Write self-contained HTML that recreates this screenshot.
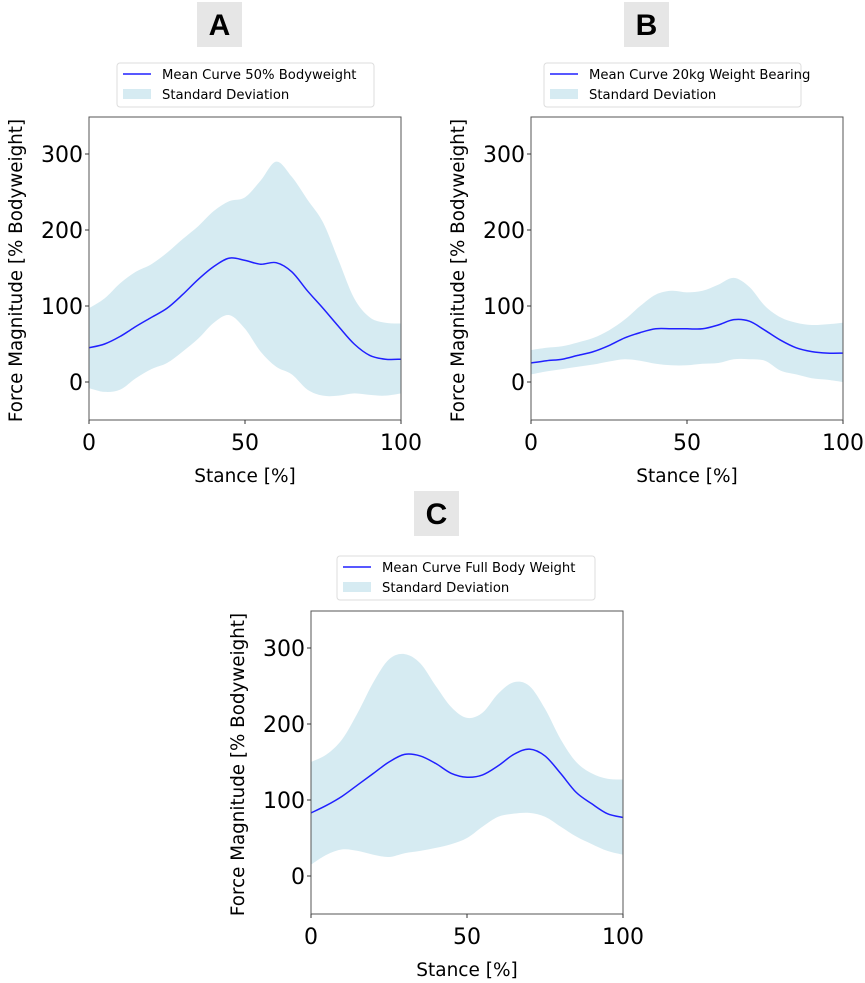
<!DOCTYPE html>
<html><head><meta charset="utf-8"><style>
body{margin:0;background:#fff;width:865px;height:983px;overflow:hidden;font-family:"DejaVu Sans","Liberation Sans",sans-serif}
svg{position:absolute;left:0;top:0}
</style></head><body>
<svg id="chart" width="865" height="983"></svg>
<script>
const stance=[0,5,10,15,20,25,30,35,40,45,50,55,60,65,70,75,80,85,90,95,100];
const yTicks=[0,100,200,300];
const xTicks=[0,50,100];
const meanA=[45,50,60,73,85,97,115,135,152,163,160,155,157,145,120,97,73,50,35,30,30];
const upperA=[97,110,130,145,155,170,188,205,225,238,243,265,290,270,240,210,160,110,85,78,77];
const lowerA=[-8,-13,-10,5,17,25,40,57,78,88,70,40,20,10,-10,-18,-18,-15,-17,-18,-15];
const meanB=[25,28,30,35,40,48,58,65,70,70,70,70,75,82,80,68,55,45,40,38,38];
const upperB=[42,45,47,52,58,68,82,100,115,120,118,120,128,137,125,100,85,78,75,76,78];
const lowerB=[10,14,17,20,23,27,30,28,24,22,22,24,25,30,30,28,15,10,5,3,0];
const meanC=[83,93,105,120,135,150,160,158,148,135,130,133,145,160,167,158,135,110,95,82,77];
const upperC=[150,160,180,215,255,285,292,280,250,222,208,215,240,255,250,220,180,150,135,128,127];
const lowerC=[15,28,35,33,28,25,30,33,37,42,50,65,78,82,83,78,65,52,42,33,28];
const labels=["Mean Curve 50% Bodyweight","Mean Curve 20kg Weight Bearing","Mean Curve Full Body Weight"];

const NS="http://www.w3.org/2000/svg";
const svg=document.getElementById('chart');
function mk(tag,attrs,parent,txt){const e=document.createElementNS(NS,tag);for(const k in attrs)e.setAttribute(k,attrs[k]);if(txt!==undefined)e.textContent=txt;(parent||svg).appendChild(e);return e;}
function smooth(pts){let d="M"+pts[0][0]+","+pts[0][1];for(let i=0;i<pts.length-1;i++){const p0=pts[Math.max(0,i-1)],p1=pts[i],p2=pts[i+1],p3=pts[Math.min(pts.length-1,i+2)];
d+=" C"+(p1[0]+(p2[0]-p0[0])/6)+","+(p1[1]+(p2[1]-p0[1])/6)+" "+(p2[0]-(p3[0]-p1[0])/6)+","+(p2[1]-(p3[1]-p1[1])/6)+" "+p2[0]+","+p2[1];}return d;}
function panel(id,L,T,mean,up,lo,letter,lx,ly,legX,legY,legW,label){
  const R=L+312,B=T+303;
  const x=v=>L+v/100*(R-L);
  const y=v=>(T+265)-v*0.76;
  const g=mk('g',{});
  
  
  const lb=mk('rect',{x:lx,y:ly,width:45,height:45,fill:'#e6e6e6'},g);
  
  
  const lt=mk('text',{x:lx+22.5,y:ly+33,'text-anchor':'middle','font-size':30,'font-weight':'bold','font-family':'Liberation Sans, sans-serif'},g,letter);
  
  
  const upPts=stance.map((s,i)=>[x(s),y(up[i])]);
  const loPts=stance.map((s,i)=>[x(s),y(lo[i])]).reverse();
  const band=mk('path',{d:smooth(upPts)+" L"+smooth(loPts).slice(1)+" Z",fill:'#add8e6','fill-opacity':0.5},g);
  
  
  const ln=mk('path',{d:smooth(stance.map((s,i)=>[x(s),y(mean[i])])),fill:'none',stroke:'#2020ff','stroke-width':1.5},g);
  
  
  const fr=mk('rect',{x:L,y:T,width:R-L,height:B-T,fill:'none',stroke:'#555','stroke-width':1},g);
  
  
  yTicks.forEach(v=>{mk('line',{x1:L-4,x2:L,y1:y(v),y2:y(v),stroke:'#333'},g);
    const t=mk('text',{x:L-6,y:y(v)+8,'text-anchor':'end','font-size':22},g,v);
    
    });
  xTicks.forEach(v=>{mk('line',{x1:x(v),x2:x(v),y1:B,y2:B+4,stroke:'#333'},g);
    const t=mk('text',{x:x(v),y:B+30,'text-anchor':'middle','font-size':22},g,v);
    
    });
  const xt=mk('text',{x:(L+R)/2,y:B+62,'text-anchor':'middle','font-size':18.5},g,'Stance [%]');
  
  
  const yt=mk('text',{x:0,y:0,'text-anchor':'middle','font-size':18.3,transform:`translate(${L-67},${(T+B)/2+2}) rotate(-90)`},g,'Force Magnitude [% Bodyweight]');
  
  
  const lg=mk('g',{},g);
  
  
  mk('rect',{x:legX,y:legY,width:legW,height:44,rx:3,fill:'#fff',stroke:'#ddd'},lg);
  mk('line',{x1:legX+6,x2:legX+34,y1:legY+11,y2:legY+11,stroke:'#2020ff','stroke-width':1.5},lg);
  mk('rect',{x:legX+6,y:legY+26,width:28,height:10,fill:'#add8e6','fill-opacity':0.5},lg);
  mk('text',{x:legX+45,y:legY+16,'font-size':13.2},lg,label);
  mk('text',{x:legX+45,y:legY+36,'font-size':13.2},lg,'Standard Deviation');
}
panel('a',89,117,meanA,upperA,lowerA,'A',197,2,117,63,257,labels[0]);
panel('b',531,117,meanB,upperB,lowerB,'B',624,2,544,63,257,labels[1]);
panel('c',311,611,meanC,upperC,lowerC,'C',414,491,337,556,258,labels[2]);
</script>
</body></html>
